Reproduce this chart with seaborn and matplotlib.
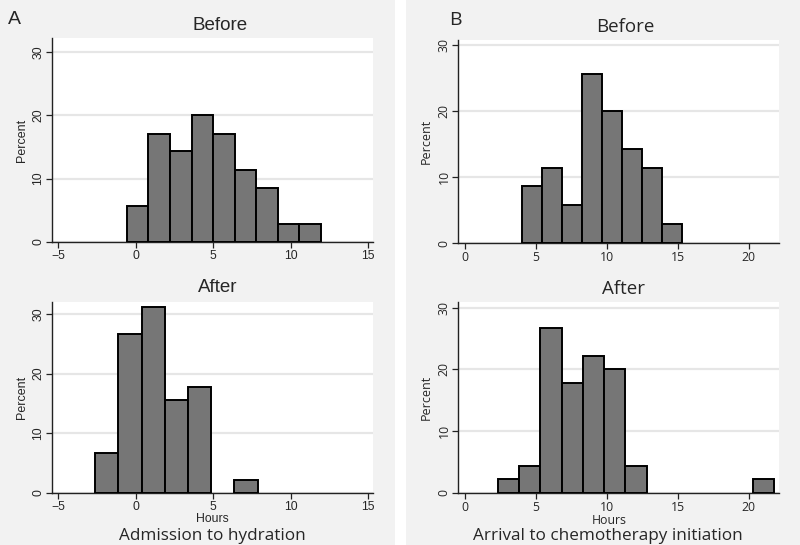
"""Before/after histograms of time intervals (hours), two panels A and B."""

import matplotlib
matplotlib.use("Agg")
import matplotlib.pyplot as plt
from matplotlib.patches import Rectangle
import numpy as np
import pandas as pd
import seaborn as sns

# --- data (percent of patients per bin) ---
hyd_before_start, hyd_before_width = -0.57, 1.39
hyd_before_pct = [5.7, 17.1, 14.3, 20.0, 17.1, 11.4, 8.6, 2.9, 2.9]

hyd_after_start, hyd_after_width = -2.61, 1.495
hyd_after_pct = [6.7, 26.7, 31.1, 15.6, 17.8, 0.0, 2.2]

chemo_before_start, chemo_before_width = 4.07, 1.404
chemo_before_pct = [8.6, 11.4, 5.7, 25.7, 20.0, 14.3, 11.4, 2.9]

chemo_after_start, chemo_after_width = 2.33, 1.497
chemo_after_pct = [2.2, 4.4, 26.7, 17.8, 22.2, 20.0, 4.4, 0, 0, 0, 0, 0, 2.2]

xticks_a = [-5, 0, 5, 10, 15]
xticks_b = [0, 5, 10, 15, 20]
yticks = [0, 10, 20, 30]

BAR = "#767676"
PANEL_BG = "#f2f2f2"
GRID = "#e6e6e6"
W, H = 800, 545

sns.set_theme(style="white")
plt.rcParams["font.family"] = ["Liberation Sans", "DejaVu Sans"]
arial = ["Liberation Sans", "DejaVu Sans"]
humanist = ["Open Sans", "DejaVu Sans"]


def px_rect(left, top, right, bottom):
    return [left / W, 1 - bottom / H, (right - left) / W, (bottom - top) / H]


def draw_hist(ax, start, width, pct, xlim, ylim, xticks, family):
    edges = start + width * np.arange(len(pct) + 1)
    df = pd.DataFrame({"hours": (edges[:-1] + edges[1:]) / 2, "pct": pct})
    sns.histplot(data=df, x="hours", weights="pct", bins=list(edges), ax=ax,
                 color=BAR, edgecolor="black", linewidth=1.4, alpha=1, zorder=3)
    # empty bins: no outline along the axis
    for p in ax.patches:
        if p.get_height() == 0:
            p.set_visible(False)
    ax.set_facecolor("white")
    ax.set_xlim(*xlim)
    ax.set_ylim(*ylim)
    ax.set_xticks(xticks)
    ax.set_yticks(yticks)
    ax.grid(axis="y", color=GRID, linewidth=1.6, zorder=0)
    ax.grid(axis="x", visible=False)
    for s in ["top", "right"]:
        ax.spines[s].set_visible(False)
    for s in ["left", "bottom"]:
        ax.spines[s].set_color("#222222")
        ax.spines[s].set_linewidth(1.0)
    ax.tick_params(axis="both", direction="out", length=4, width=0.9,
                   color="#222222", labelsize=8.8, pad=1.5, bottom=True, left=True)
    for lbl in ax.get_xticklabels() + ax.get_yticklabels():
        lbl.set_family(family)
    for lbl in ax.get_yticklabels():
        lbl.set_rotation(90)
        lbl.set_va("center")
    ax.set_ylabel("Percent", fontsize=9, labelpad=3, family=family)
    ax.set_xlabel("")


fig = plt.figure(figsize=(W / 100, H / 100), dpi=100, facecolor="white")
fig.patches.append(Rectangle((0, 0), 395 / W, 1, transform=fig.transFigure,
                             facecolor=PANEL_BG, edgecolor="none", zorder=-1))
fig.patches.append(Rectangle((406 / W, 0), 394 / W, 1, transform=fig.transFigure,
                             facecolor=PANEL_BG, edgecolor="none", zorder=-1))

ax1 = fig.add_axes(px_rect(52, 38, 373, 242))
draw_hist(ax1, hyd_before_start, hyd_before_width, hyd_before_pct,
          (-5.4, 15.3), (0, 32.2), xticks_a, arial)
ax2 = fig.add_axes(px_rect(52, 302, 373, 493))
draw_hist(ax2, hyd_after_start, hyd_after_width, hyd_after_pct,
          (-5.4, 15.3), (0, 32.0), xticks_a, arial)
ax3 = fig.add_axes(px_rect(458, 40, 779, 243))
draw_hist(ax3, chemo_before_start, chemo_before_width, chemo_before_pct,
          (-0.47, 22.14), (0, 30.8), xticks_b, humanist)
ax4 = fig.add_axes(px_rect(458, 302, 779, 493))
draw_hist(ax4, chemo_after_start, chemo_after_width, chemo_after_pct,
          (-0.47, 22.14), (0, 30.9), xticks_b, humanist)


def ftext(x, y, s, size, family=None, **kw):
    fig.text(x / W, 1 - y / H, s, fontsize=size, ha="center", va="center",
             family=family or arial, **kw)


ftext(14, 20, "A", 14)
ftext(455, 20, "B", 14, humanist)
ftext(220, 26, "Before", 13.5)
ftext(218, 288, "After", 13.5)
ftext(625, 27, "Before", 13.5, humanist)
ftext(624, 289, "After", 13.5, humanist)
ftext(212, 519, "Hours", 8.8)
ftext(609, 520, "Hours", 8.8, humanist)
ftext(212, 536, "Admission to hydration", 12.3, humanist)
ftext(608, 536, "Arrival to chemotherapy initiation", 12.3, humanist)

fig.savefig("out.png", dpi=100, facecolor=fig.get_facecolor())
